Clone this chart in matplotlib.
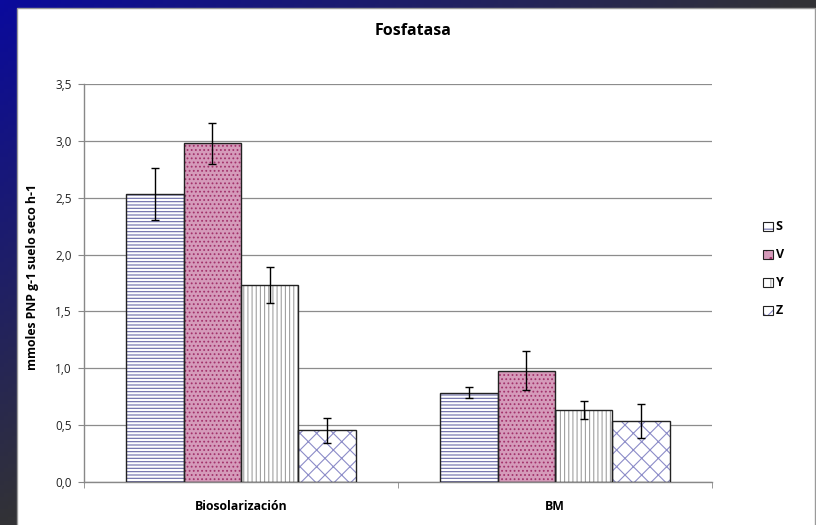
import numpy as np
import matplotlib
matplotlib.use("Agg")
import matplotlib.pyplot as plt
from matplotlib.patches import Rectangle
from matplotlib.legend_handler import HandlerTuple

plt.rcParams['font.family'] = ['Open Sans', 'DejaVu Sans']
plt.rcParams['hatch.linewidth'] = 0.8

# datos de actividad fosfatasa
grupos = ['Biosolarización', 'BM']
series = ['S', 'V', 'Y', 'Z']
valores = {
    'S': [2.53, 0.785],
    'V': [2.98, 0.98],
    'Y': [1.73, 0.63],
    'Z': [0.455, 0.54],
}
errores = {
    'S': [0.23, 0.05],
    'V': [0.18, 0.17],
    'Y': [0.16, 0.08],
    'Z': [0.11, 0.15],
}
yticks = [0.0, 0.5, 1.0, 1.5, 2.0, 2.5, 3.0, 3.5]

# relleno, trama y color de trama de cada serie
estilos = {
    'S': ('white', '-----', '#6a6aa8'),
    'V': ('#d59bba', '....', '#a3336c'),
    'Y': ('white', '||||', '#a0a0a0'),
    'Z': ('white', 'xx', '#8c8cc8'),
}

fig = plt.figure(figsize=(8.16, 5.25), dpi=100)

# fondo degradado de la diapositiva
bg = fig.add_axes([0, 0, 1, 1], zorder=-10)
xx, yy = np.meshgrid(np.linspace(0, 1, 200), np.linspace(0, 1, 130))
t = np.clip(xx * 1.02 + yy * 1.0, 0, 1)[..., None]
azul = np.array([0x0a, 0x0a, 0x9c]) / 255
gris = np.array([0x32, 0x32, 0x36]) / 255
bg.imshow(azul * (1 - t) + gris * t, aspect='auto', extent=[0, 1, 1, 0])
bg.set_xlim(0, 1)
bg.set_ylim(1, 0)
bg.axis('off')

# panel blanco del grafico
fig.patches.append(Rectangle((17 / 816, -0.01), 798 / 816, 1 - 8 / 525 + 0.01,
                             transform=fig.transFigure, facecolor='white',
                             edgecolor='#9a9a9a', linewidth=1.0, zorder=-5))

ax = fig.add_axes([84 / 816, 1 - 482 / 525, 628 / 816, 398 / 525])
ax.set_facecolor('none')

x = np.arange(len(grupos))
ancho = 0.183
handles = []
for i, s in enumerate(series):
    pos = x + (i - 1.5) * ancho
    fc, hatch, hc = estilos[s]
    ax.bar(pos, valores[s], ancho, color=fc, hatch=hatch, edgecolor=hc,
           linewidth=0, zorder=2)
    ax.bar(pos, valores[s], ancho, fill=False, edgecolor='#222222',
           linewidth=1.0, zorder=3)
    ax.errorbar(pos, valores[s], yerr=errores[s], fmt='none', ecolor='black',
                elinewidth=1.0, capsize=3, capthick=1.0, zorder=4)
    p1 = Rectangle((0, 0), 1, 1, facecolor=fc, hatch=hatch[:2], edgecolor=hc, linewidth=0)
    p2 = Rectangle((0, 0), 1, 1, fill=False, edgecolor='#222222', linewidth=0.8)
    handles.append((p1, p2))

ax.set_ylim(0, 3.5)
ax.set_xlim(-0.5, 1.5)
ax.set_yticks(yticks)
ax.set_yticklabels([f'{v:.1f}'.replace('.', ',') for v in yticks], fontsize=8.5,
                   color='#222222')
ax.yaxis.grid(True, color='#8c8c8c', linewidth=0.9, zorder=0)
ax.set_axisbelow(True)
ax.set_xticks(x)
ax.set_xticklabels(grupos, fontsize=8.8, fontweight='bold')
ax.set_xticks([-0.5, 0.5, 1.5], minor=True)
ax.tick_params(axis='x', which='major', length=0, pad=13)
ax.tick_params(axis='x', which='minor', length=4, color='#888888', direction='out')
ax.tick_params(axis='y', length=4, color='#888888', pad=5)
for lado in ['top', 'right']:
    ax.spines[lado].set_visible(False)
for lado in ['left', 'bottom']:
    ax.spines[lado].set_color('#888888')
    ax.spines[lado].set_linewidth(1.0)

fig.text(33 / 816, 1 - 277 / 525, 'mmoles PNP g-1 suelo seco h-1', rotation=90,
         ha='center', va='center', fontsize=8.8, fontweight='bold')
fig.text(413 / 816, 1 - 31 / 525, 'Fosfatasa', ha='center', va='center',
         fontsize=11.5, fontweight='bold')

leg = fig.legend(handles, series, loc='center left',
                 bbox_to_anchor=(752 / 816, 1 - 269 / 525), frameon=False,
                 handler_map={tuple: HandlerTuple(ndivide=1)},
                 handlelength=0.75, handleheight=0.75, handletextpad=0.25,
                 labelspacing=1.2, prop={'size': 9, 'weight': 'bold'})

fig.savefig('out.png', dpi=100)
